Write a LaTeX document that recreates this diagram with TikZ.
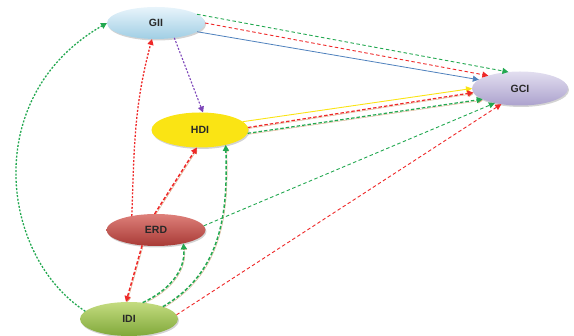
\documentclass[tikz,border=0pt]{standalone}
\usepackage{fontspec}
\setmainfont{Liberation Sans}
\usetikzlibrary{arrows.meta,shapes.geometric,shadows}

\definecolor{lgreen}{RGB}{34,168,80}
\definecolor{lred}{RGB}{238,40,40}
\definecolor{lblue}{RGB}{79,129,189}
\definecolor{lpurple}{RGB}{125,70,185}
\definecolor{lyellow}{RGB}{250,228,20}
\definecolor{ltan}{RGB}{215,170,130}
\definecolor{txt}{RGB}{40,40,40}

\tikzset{
  bubble/.style={ellipse, inner sep=0pt, outer sep=0pt,
    font=\fontsize{10.5}{12}\selectfont\bfseries, text=txt,
    drop shadow={shadow xshift=1pt, shadow yshift=-1.5pt, opacity=0.35}},
  tip/.style={-{Triangle[length=6pt,width=6pt]}},
  thin dash/.style={tip, line width=0.9pt, dash pattern=on 3.5pt off 2.5pt},
  dotty/.style={tip, line width=1.3pt, dash pattern=on 2pt off 1.6pt},
  thick dash/.style={tip, line width=1.5pt, dash pattern=on 3.5pt off 2pt,
    preaction={draw=ltan, transform canvas={shift={(0.9pt,-1pt)}}}},
}

\begin{document}
\begin{tikzpicture}[x=1pt,y=1pt]
  \useasboundingbox (0,0) rectangle (574,336);

  % the five constructs
  \node[bubble, minimum width=98pt, minimum height=32pt,
        top color={rgb,255:red,232;green,244;blue,251},
        bottom color={rgb,255:red,160;green,206;blue,228}] (GII) at (156,313) {GII};
  \node[bubble, minimum width=96pt, minimum height=34pt,
        top color={rgb,255:red,226;green,222;blue,240},
        bottom color={rgb,255:red,172;green,162;blue,206}] (GCI) at (520,247.5) {GCI};
  \node[bubble, minimum width=97pt, minimum height=35pt,
        fill=lyellow] (HDI) at (200,206) {HDI};
  \node[bubble, minimum width=99pt, minimum height=32pt,
        top color={rgb,255:red,222;green,128;blue,122},
        bottom color={rgb,255:red,168;green,58;blue,54}] (ERD) at (156,106) {ERD};
  \node[bubble, minimum width=98pt, minimum height=34pt,
        top color={rgb,255:red,196;green,220;blue,128},
        bottom color={rgb,255:red,128;green,168;blue,58}] (IDI) at (129,17) {IDI};

  % paths into GCI
  \draw[thin dash, lgreen] (GII.12) -- (GCI.125);
  \draw[thin dash, lred] (GII.0) -- (GCI.158);
  \draw[tip, lblue, line width=0.8pt] (GII.-12) -- (GCI.168);
  \draw[tip, lyellow, line width=0.9pt] (HDI.11) -- (GCI.180);
  \draw[thick dash, lred, line width=1.2pt] (HDI.3) -- (GCI.185);
  \draw[thick dash, lgreen, line width=1.2pt] (HDI.-4) -- (GCI.196);
  \draw[thin dash, lgreen] (ERD.5) -- (GCI.210);
  \draw[thin dash, lred] (IDI.5) -- (GCI.220);

  % paths into HDI
  \draw[dotty, lpurple, line width=1.1pt] (GII.-39) -- (HDI.80);
  \draw[thick dash, lred] (ERD.95) -- (HDI.-100);
  \draw[thick dash, lgreen] (IDI.20) to[out=30, in=-88] (HDI.-30);

  % paths into GII
  \draw[dotty, lred] (ERD.150) to[out=88, in=-105] (GII.-104);
  \draw[dotty, lgreen] (IDI.170) .. controls (0,80) and (-20,240) .. (GII.180);

  % paths between ERD and IDI
  \draw[thick dash, lred] (ERD.-132) -- (IDI.100);
  \draw[thick dash, lgreen] (IDI.50) to[out=25, in=-85] (ERD.-26);
\end{tikzpicture}
\end{document}
